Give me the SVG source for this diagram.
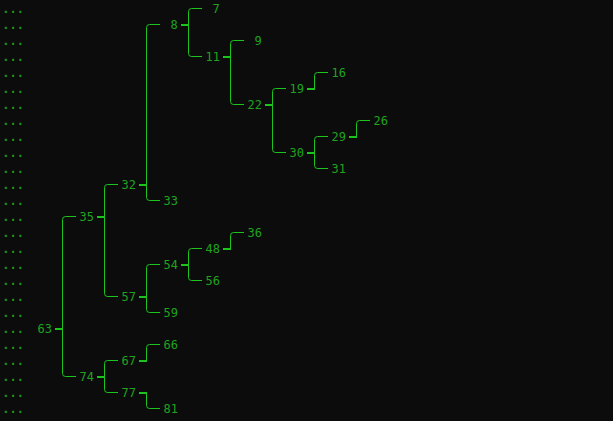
<svg xmlns="http://www.w3.org/2000/svg" width="613" height="421" viewBox="0 0 613 421">
<style>
.bg{fill:#0c0c0c}
.dots{font-family:"DejaVu Sans Mono","Liberation Mono",monospace;font-size:12px;font-weight:bold;fill:#1c961c}
.lbl{font-family:"DejaVu Sans Mono","Liberation Mono",monospace;font-size:12px;fill:#1fa31f}
.ln{fill:none;stroke:#1ec41e;stroke-width:1}
.stub{fill:#1ec41e}
</style>
<rect class="bg" x="0" y="0" width="613" height="421"/>
<g id="gutter" class="dots">
<text x="2.2" y="13">...</text><text x="2.2" y="29">...</text><text x="2.2" y="45">...</text><text x="2.2" y="61">...</text>
<text x="2.2" y="77">...</text><text x="2.2" y="93">...</text><text x="2.2" y="109">...</text><text x="2.2" y="125">...</text>
<text x="2.2" y="141">...</text><text x="2.2" y="157">...</text><text x="2.2" y="173">...</text><text x="2.2" y="189">...</text>
<text x="2.2" y="205">...</text><text x="2.2" y="221">...</text><text x="2.2" y="237">...</text><text x="2.2" y="253">...</text>
<text x="2.2" y="269">...</text><text x="2.2" y="285">...</text><text x="2.2" y="301">...</text><text x="2.2" y="317">...</text>
<text x="2.2" y="333">...</text><text x="2.2" y="349">...</text><text x="2.2" y="365">...</text><text x="2.2" y="381">...</text>
<text x="2.2" y="397">...</text><text x="2.2" y="413">...</text>
</g>
<g id="connectors">
<path class="ln" d="M76,216.5 H65.5 Q62.5,216.5 62.5,219.5 V373.5 Q62.5,376.5 65.5,376.5 H76"/>
<rect class="stub" x="55" y="328" width="8" height="2"/>
<path class="ln" d="M118,184.5 H107.5 Q104.5,184.5 104.5,187.5 V293.5 Q104.5,296.5 107.5,296.5 H118"/>
<rect class="stub" x="97" y="216" width="8" height="2"/>
<path class="ln" d="M118,360.5 H107.5 Q104.5,360.5 104.5,363.5 V389.5 Q104.5,392.5 107.5,392.5 H118"/>
<rect class="stub" x="97" y="376" width="8" height="2"/>
<path class="ln" d="M160,24.5 H149.5 Q146.5,24.5 146.5,27.5 V197.5 Q146.5,200.5 149.5,200.5 H160"/>
<rect class="stub" x="139" y="184" width="8" height="2"/>
<path class="ln" d="M160,264.5 H149.5 Q146.5,264.5 146.5,267.5 V309.5 Q146.5,312.5 149.5,312.5 H160"/>
<rect class="stub" x="139" y="296" width="8" height="2"/>
<path class="ln" d="M160,344.5 H149.5 Q146.5,344.5 146.5,347.5 V361"/>
<rect class="stub" x="139" y="360" width="8" height="2"/>
<path class="ln" d="M146.5,392 V405.5 Q146.5,408.5 149.5,408.5 H160"/>
<rect class="stub" x="139" y="392" width="8" height="2"/>
<path class="ln" d="M202,8.5 H191.5 Q188.5,8.5 188.5,11.5 V53.5 Q188.5,56.5 191.5,56.5 H202"/>
<rect class="stub" x="181" y="24" width="8" height="2"/>
<path class="ln" d="M202,248.5 H191.5 Q188.5,248.5 188.5,251.5 V277.5 Q188.5,280.5 191.5,280.5 H202"/>
<rect class="stub" x="181" y="264" width="8" height="2"/>
<path class="ln" d="M244,40.5 H233.5 Q230.5,40.5 230.5,43.5 V101.5 Q230.5,104.5 233.5,104.5 H244"/>
<rect class="stub" x="223" y="56" width="8" height="2"/>
<path class="ln" d="M244,232.5 H233.5 Q230.5,232.5 230.5,235.5 V249"/>
<rect class="stub" x="223" y="248" width="8" height="2"/>
<path class="ln" d="M286,88.5 H275.5 Q272.5,88.5 272.5,91.5 V149.5 Q272.5,152.5 275.5,152.5 H286"/>
<rect class="stub" x="265" y="104" width="8" height="2"/>
<path class="ln" d="M328,72.5 H317.5 Q314.5,72.5 314.5,75.5 V89"/>
<rect class="stub" x="307" y="88" width="8" height="2"/>
<path class="ln" d="M328,136.5 H317.5 Q314.5,136.5 314.5,139.5 V165.5 Q314.5,168.5 317.5,168.5 H328"/>
<rect class="stub" x="307" y="152" width="8" height="2"/>
<path class="ln" d="M370,120.5 H359.5 Q356.5,120.5 356.5,123.5 V137"/>
<rect class="stub" x="349" y="136" width="8" height="2"/>
</g>
<g id="n7" class="lbl"><text x="212.5" y="13">7</text></g>
<g id="n8" class="lbl"><text x="170.5" y="29">8</text></g>
<g id="n9" class="lbl"><text x="254.5" y="45">9</text></g>
<g id="n11" class="lbl"><text x="205.5" y="61">11</text></g>
<g id="n16" class="lbl"><text x="331.5" y="77">16</text></g>
<g id="n19" class="lbl"><text x="289.5" y="93">19</text></g>
<g id="n22" class="lbl"><text x="247.5" y="109">22</text></g>
<g id="n26" class="lbl"><text x="373.5" y="125">26</text></g>
<g id="n29" class="lbl"><text x="331.5" y="141">29</text></g>
<g id="n30" class="lbl"><text x="289.5" y="157">30</text></g>
<g id="n31" class="lbl"><text x="331.5" y="173">31</text></g>
<g id="n32" class="lbl"><text x="121.5" y="189">32</text></g>
<g id="n33" class="lbl"><text x="163.5" y="205">33</text></g>
<g id="n35" class="lbl"><text x="79.5" y="221">35</text></g>
<g id="n36" class="lbl"><text x="247.5" y="237">36</text></g>
<g id="n48" class="lbl"><text x="205.5" y="253">48</text></g>
<g id="n54" class="lbl"><text x="163.5" y="269">54</text></g>
<g id="n56" class="lbl"><text x="205.5" y="285">56</text></g>
<g id="n57" class="lbl"><text x="121.5" y="301">57</text></g>
<g id="n59" class="lbl"><text x="163.5" y="317">59</text></g>
<g id="n63" class="lbl"><text x="37.5" y="333">63</text></g>
<g id="n66" class="lbl"><text x="163.5" y="349">66</text></g>
<g id="n67" class="lbl"><text x="121.5" y="365">67</text></g>
<g id="n74" class="lbl"><text x="79.5" y="381">74</text></g>
<g id="n77" class="lbl"><text x="121.5" y="397">77</text></g>
<g id="n81" class="lbl"><text x="163.5" y="413">81</text></g>
</svg>
